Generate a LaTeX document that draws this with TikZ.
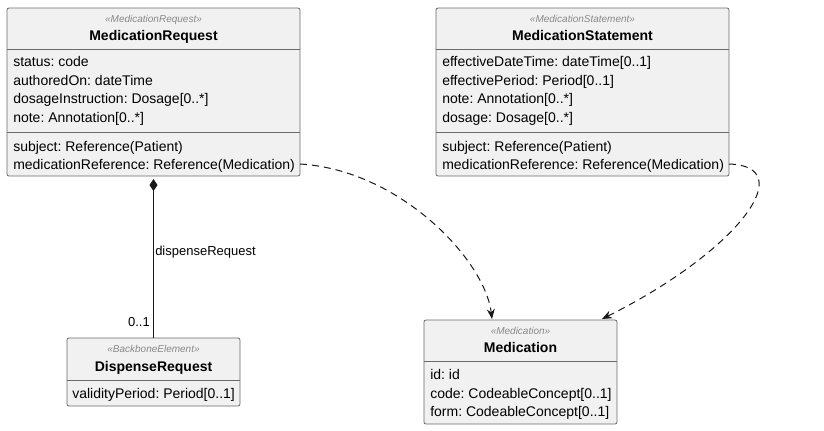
\documentclass[tikz,border=0pt]{standalone}
\usepackage{fontspec}
\setmainfont{Liberation Sans}
\usetikzlibrary{arrows.meta,fit}
\frenchspacing
\definecolor{boxfill}{HTML}{F1F1F1}
\definecolor{boxline}{HTML}{6A6A6A}
\definecolor{linkline}{HTML}{181818}
\definecolor{stereogrey}{HTML}{888888}
\tikzset{
  classbox/.style={draw=boxline,fill=boxfill,line width=0.6pt,rounded corners=1.5pt,inner sep=0pt},
  sepline/.style={draw=boxline,line width=0.6pt},
  stereo/.style={anchor=base,inner sep=0pt,text=stereogrey,font=\fontsize{7.5pt}{9pt}\selectfont\itshape},
  classname/.style={anchor=base,inner sep=0pt,font=\fontsize{10.5pt}{12pt}\selectfont\bfseries},
  attr/.style={anchor=base west,inner sep=0pt,font=\fontsize{10.5pt}{12pt}\selectfont},
  linklabel/.style={inner sep=0pt,font=\fontsize{9.75pt}{11pt}\selectfont},
  composition/.style={draw=linkline,line width=0.75pt,{Diamond[length=9pt,width=6pt]}-},
  depend/.style={draw=linkline,line width=0.75pt,dash pattern={on 5.25pt off 3.75pt},-{Stealth[length=7.5pt,width=6pt,inset=2.5pt]}}
}
\begin{document}
\begin{tikzpicture}[x=0.75pt,y=0.75pt,yscale=-1,xscale=1]
\useasboundingbox (0,0) rectangle (824,430);

%Shape: Class MedicationRequest
\node[classbox,fit={(7,8) (300,176)}] (mr) {};
\draw[sepline] (7,49) -- (300,49);
\draw[sepline] (7,132) -- (300,132);
% Text Node
\node[stereo] (mr-st) at (153.5,22.5) {«MedicationRequest»};
\node[classname] (mr-nm) at (153.5,40) {MedicationRequest};
\node[attr] (mr-a1) at (13,66.5) {status: code};
\node[attr] (mr-a2) at (13,85.2) {authoredOn: dateTime};
\node[attr] (mr-a3) at (13,103.9) {dosageInstruction: Dosage[0..*]};
\node[attr] (mr-a4) at (13,122.6) {note: Annotation[0..*]};
\node[attr] (mr-a5) at (13,151) {subject: Reference(Patient)};
\node[attr] (mr-a6) at (13,169.7) {medicationReference: Reference(Medication)};

%Shape: Class MedicationStatement
\node[classbox,fit={(436,8) (729,176)}] (ms) {};
\draw[sepline] (436,49) -- (729,49);
\draw[sepline] (436,132) -- (729,132);
% Text Node
\node[stereo] (ms-st) at (582.5,22.5) {«MedicationStatement»};
\node[classname] (ms-nm) at (582.5,40) {MedicationStatement};
\node[attr] (ms-a1) at (442,66.5) {effectiveDateTime: dateTime[0..1]};
\node[attr] (ms-a2) at (442,85.2) {effectivePeriod: Period[0..1]};
\node[attr] (ms-a3) at (442,103.9) {note: Annotation[0..*]};
\node[attr] (ms-a4) at (442,122.6) {dosage: Dosage[0..*]};
\node[attr] (ms-a5) at (442,151) {subject: Reference(Patient)};
\node[attr] (ms-a6) at (442,169.7) {medicationReference: Reference(Medication)};

%Shape: Class Medication
\node[classbox,fit={(424,320) (617,424)}] (med) {};
\draw[sepline] (424,361) -- (617,361);
% Text Node
\node[stereo] (med-st) at (520.5,334.5) {«Medication»};
\node[classname] (med-nm) at (520.5,352) {Medication};
\node[attr] (med-a1) at (430,379.5) {id: id};
\node[attr] (med-a2) at (430,398) {code: CodeableConcept[0..1]};
\node[attr] (med-a3) at (430,416.5) {form: CodeableConcept[0..1]};

%Shape: Class DispenseRequest
\node[classbox,fit={(67,338) (240,406)}] (dr) {};
\draw[sepline] (67,380) -- (240,380);
% Text Node
\node[stereo] (dr-st) at (153.5,352.5) {«BackboneElement»};
\node[classname] (dr-nm) at (153.5,371) {DispenseRequest};
\node[attr] (dr-a1) at (72,398) {validityPeriod: Period[0..1]};

%Straight Lines: composition
\draw[composition,shorten <=2pt] (mr.south) -- (dr.north);
\node[linklabel,anchor=base west] (lbl-disp) at (155,255) {dispenseRequest};
\node[linklabel,anchor=base east] (lbl-mult) at (150,326) {0..1};

%Curve Lines: dependencies
\coordinate (mr-out) at (300,164);
\coordinate (ms-out) at (729,164);
\coordinate (med-in1) at (492,319);
\coordinate (med-in2) at (602,319);
\draw[depend] (mr-out) .. controls (400,170) and (485,260) .. (med-in1);
\draw[depend] (ms-out) .. controls (800,166) and (740,250) .. (med-in2);

\end{tikzpicture}
\end{document}
